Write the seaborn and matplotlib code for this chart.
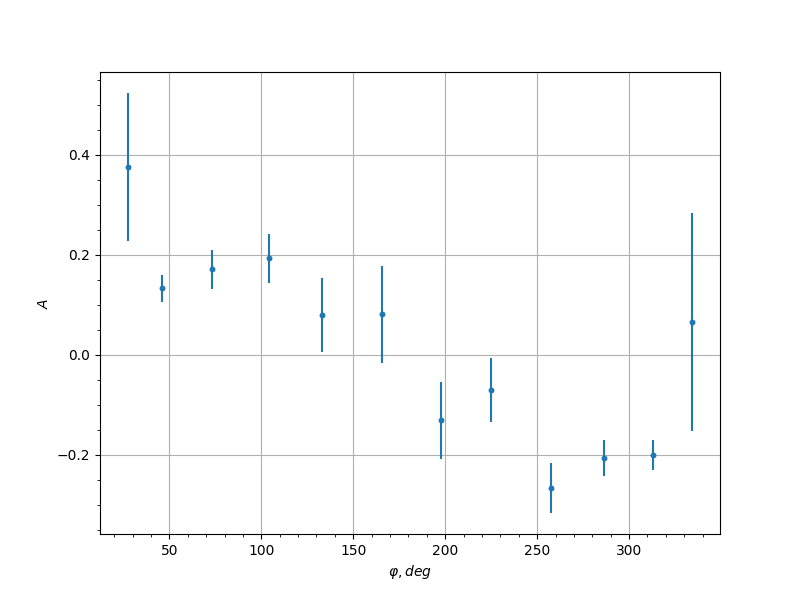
import matplotlib
matplotlib.use("Agg")
import matplotlib.pyplot as plt
import seaborn as sns
import pandas as pd

phi = [27.6, 46.0, 73.2, 104.2, 133.0, 165.6, 197.7, 225.0, 257.4, 286.2, 313.0, 334.1]
amp = [0.376, 0.134, 0.172, 0.194, 0.080, 0.082, -0.130, -0.070, -0.266, -0.206, -0.200, 0.066]
amp_err = [0.148, 0.027, 0.039, 0.049, 0.074, 0.097, 0.077, 0.064, 0.050, 0.036, 0.030, 0.218]

df = pd.DataFrame({"phi": phi, "A": amp, "err": amp_err})

fig, ax = plt.subplots(figsize=(8, 6), dpi=100)

ax.errorbar(df["phi"], df["A"], yerr=df["err"], fmt="none", ecolor="C0", zorder=2)
sns.scatterplot(data=df, x="phi", y="A", ax=ax, color="C0", s=18, linewidth=0, zorder=3)

ax.minorticks_on()
ax.grid(True, which="major")
ax.set_xlabel(r"$\varphi, deg$")
ax.set_ylabel(r"$A$")

fig.savefig("out.png", dpi=100)
